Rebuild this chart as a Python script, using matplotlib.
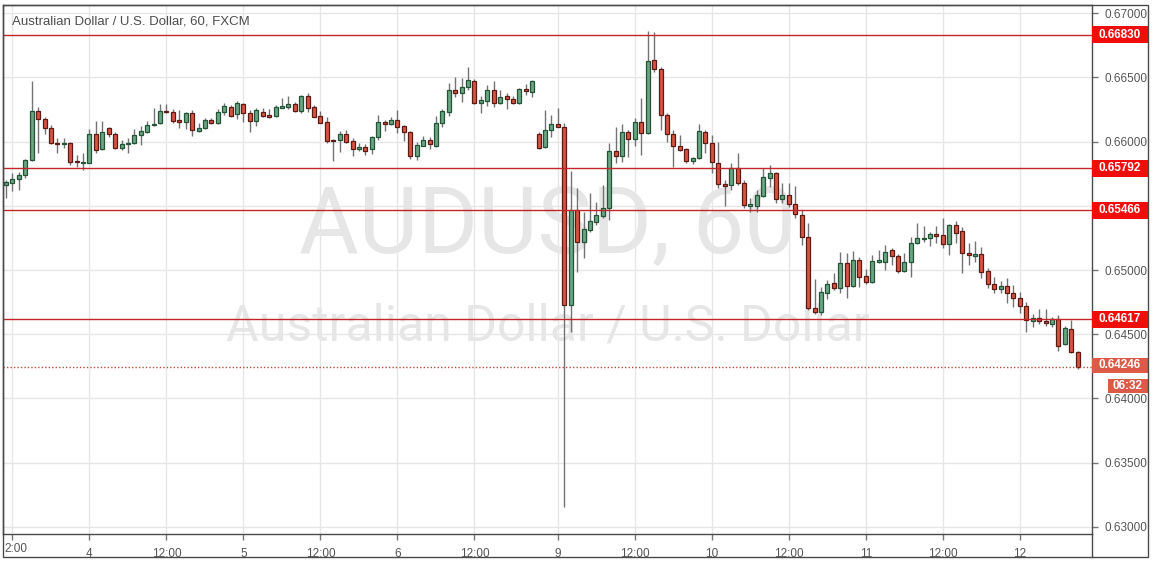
import matplotlib
matplotlib.use('Agg')
import matplotlib.pyplot as plt
import matplotlib.transforms as mtransforms
from matplotlib.patches import Rectangle
from matplotlib.lines import Line2D
import numpy as np

# ---------------- data (AUD/USD, 60 min, FXCM) ----------------
opens = [0.65658, 0.65680, 0.65706, 0.65737, 0.65856, 0.66238, 0.66173, 0.66103, 0.65989, 0.65981,
         0.65986, 0.65851, 0.65835, 0.65835, 0.66056, 0.65940, 0.66103, 0.66056, 0.65947, 0.65981,
         0.65986, 0.66049, 0.66077, 0.66126, 0.66142, 0.66238, 0.66227, 0.66168, 0.66150, 0.66224,
         0.66082, 0.66103, 0.66168, 0.66142, 0.66227, 0.66271, 0.66212, 0.66292, 0.66220, 0.66160,
         0.66232, 0.66206, 0.66201, 0.66263, 0.66271, 0.66292, 0.66240, 0.66354, 0.66266, 0.66199,
         0.66150, 0.66012, 0.66012, 0.66059, 0.66004, 0.65940, 0.65955, 0.65940, 0.66033, 0.66154,
         0.66134, 0.66168, 0.66121, 0.66072, 0.65890, 0.65968, 0.66012, 0.65968, 0.66142, 0.66232,
         0.66401, 0.66375, 0.66427, 0.66471, 0.66297, 0.66318, 0.66401, 0.66297, 0.66354, 0.66328,
         0.66297, 0.66409, 0.66388, 0.66059, 0.65955, 0.66090, 0.66136, 0.66115, 0.64728, 0.65467,
         0.65216, 0.65312, 0.65376, 0.65423, 0.65485, 0.65926, 0.65890, 0.66072, 0.66017, 0.66154,
         0.66064, 0.66634, 0.66564, 0.66206, 0.66059, 0.65965, 0.65940, 0.65851, 0.65869, 0.66077,
         0.65991, 0.65831, 0.65667, 0.65662, 0.65796, 0.65675, 0.65501, 0.65501, 0.65578, 0.65719,
         0.65753, 0.65550, 0.65584, 0.65512, 0.65428, 0.65260, 0.64703, 0.64676, 0.64824, 0.64897,
         0.64858, 0.65053, 0.64876, 0.65078, 0.64953, 0.64909, 0.65065, 0.65065, 0.65156, 0.65112,
         0.64995, 0.65065, 0.65208, 0.65242, 0.65247, 0.65281, 0.65273, 0.65200, 0.65351, 0.65304,
         0.65130, 0.65112, 0.65125, 0.64993, 0.64889, 0.64850, 0.64876, 0.64819, 0.64780, 0.64720,
         0.64604, 0.64625, 0.64604, 0.64578, 0.64617, 0.64422, 0.64539, 0.64365]
highs = [0.65697, 0.65751, 0.65765, 0.65862, 0.66471, 0.66271, 0.66193, 0.66129, 0.66025, 0.66025,
         0.65999, 0.65895, 0.65908, 0.66098, 0.66160, 0.66160, 0.66115, 0.66077, 0.66012, 0.66025,
         0.66095, 0.66121, 0.66160, 0.66259, 0.66290, 0.66290, 0.66253, 0.66245, 0.66232, 0.66245,
         0.66142, 0.66181, 0.66181, 0.66253, 0.66302, 0.66282, 0.66315, 0.66302, 0.66245, 0.66263,
         0.66263, 0.66253, 0.66284, 0.66341, 0.66354, 0.66310, 0.66362, 0.66380, 0.66284, 0.66240,
         0.66193, 0.66020, 0.66084, 0.66090, 0.66025, 0.65991, 0.65981, 0.66043, 0.66206, 0.66168,
         0.66188, 0.66245, 0.66129, 0.66082, 0.65999, 0.66043, 0.66033, 0.66199, 0.66251, 0.66453,
         0.66500, 0.66497, 0.66582, 0.66484, 0.66354, 0.66440, 0.66471, 0.66401, 0.66380, 0.66354,
         0.66419, 0.66448, 0.66479, 0.66077, 0.66245, 0.66206, 0.66259, 0.66142, 0.65773, 0.65636,
         0.65454, 0.65597, 0.65532, 0.65662, 0.65986, 0.66111, 0.66136, 0.66090, 0.66181, 0.66336,
         0.66860, 0.66850, 0.66582, 0.66220, 0.66090, 0.66051, 0.65952, 0.65882, 0.66136, 0.66090,
         0.66051, 0.65999, 0.65701, 0.65831, 0.65908, 0.65701, 0.65558, 0.65623, 0.65792, 0.65817,
         0.65765, 0.65680, 0.65675, 0.65654, 0.65467, 0.65368, 0.64928, 0.64870, 0.64923, 0.64975,
         0.65138, 0.65130, 0.65148, 0.65099, 0.65006, 0.65117, 0.65156, 0.65195, 0.65169, 0.65125,
         0.65130, 0.65255, 0.65368, 0.65343, 0.65298, 0.65343, 0.65402, 0.65356, 0.65384, 0.65337,
         0.65208, 0.65226, 0.65182, 0.65018, 0.64944, 0.64915, 0.64941, 0.64884, 0.64832, 0.64754,
         0.64656, 0.64695, 0.64695, 0.64633, 0.64650, 0.64565, 0.64612, 0.64370]
lows = [0.65561, 0.65611, 0.65623, 0.65714, 0.65850, 0.65913, 0.66056, 0.65981, 0.65913, 0.65947,
        0.65817, 0.65804, 0.65779, 0.65831, 0.65913, 0.65934, 0.66038, 0.65940, 0.65934, 0.65913,
        0.65981, 0.65973, 0.66069, 0.66123, 0.66134, 0.66220, 0.66142, 0.66103, 0.66095, 0.66043,
        0.66077, 0.66095, 0.66136, 0.66136, 0.66206, 0.66193, 0.66175, 0.66154, 0.66077, 0.66123,
        0.66193, 0.66181, 0.66193, 0.66259, 0.66253, 0.66232, 0.66220, 0.66227, 0.66188, 0.66142,
        0.65986, 0.65848, 0.65921, 0.65991, 0.65890, 0.65929, 0.65895, 0.65903, 0.66012, 0.66084,
        0.66129, 0.66064, 0.66006, 0.65864, 0.65856, 0.65965, 0.65942, 0.65960, 0.66115, 0.66201,
        0.66349, 0.66310, 0.66401, 0.66292, 0.66224, 0.66276, 0.66271, 0.66290, 0.66253, 0.66292,
        0.66292, 0.66362, 0.66349, 0.65942, 0.65947, 0.66033, 0.66111, 0.63154, 0.64520, 0.64987,
        0.65092, 0.65296, 0.65351, 0.65405, 0.65390, 0.65831, 0.65843, 0.65882, 0.65968, 0.65895,
        0.66060, 0.66543, 0.66090, 0.65999, 0.65804, 0.65926, 0.65831, 0.65823, 0.65862, 0.65908,
        0.65753, 0.65636, 0.65501, 0.65623, 0.65662, 0.65485, 0.65449, 0.65454, 0.65571, 0.65649,
        0.65519, 0.65519, 0.65493, 0.65402, 0.65195, 0.64689, 0.64658, 0.64650, 0.64773, 0.64845,
        0.64819, 0.64785, 0.64870, 0.64870, 0.64892, 0.64902, 0.65057, 0.65000, 0.65039, 0.64975,
        0.64987, 0.64948, 0.65200, 0.65221, 0.65187, 0.65208, 0.65169, 0.65117, 0.65208, 0.64979,
        0.65039, 0.65065, 0.64936, 0.64863, 0.64824, 0.64824, 0.64741, 0.64710, 0.64668, 0.64520,
        0.64555, 0.64580, 0.64565, 0.64560, 0.64370, 0.64417, 0.64357, 0.64228]
closes = [0.65685, 0.65706, 0.65740, 0.65856, 0.66238, 0.66173, 0.66103, 0.65986, 0.65979, 0.65989,
          0.65843, 0.65838, 0.65843, 0.66056, 0.65934, 0.66072, 0.66056, 0.65947, 0.65979, 0.65991,
          0.66051, 0.66082, 0.66129, 0.66136, 0.66238, 0.66227, 0.66162, 0.66150, 0.66220, 0.66090,
          0.66103, 0.66168, 0.66142, 0.66227, 0.66279, 0.66201, 0.66297, 0.66220, 0.66160, 0.66245,
          0.66201, 0.66193, 0.66266, 0.66276, 0.66292, 0.66240, 0.66354, 0.66263, 0.66193, 0.66147,
          0.66006, 0.66006, 0.66059, 0.65999, 0.65940, 0.65955, 0.65929, 0.66033, 0.66150, 0.66134,
          0.66168, 0.66111, 0.66072, 0.65890, 0.65973, 0.66012, 0.65979, 0.66142, 0.66238, 0.66401,
          0.66375, 0.66422, 0.66479, 0.66297, 0.66323, 0.66401, 0.66297, 0.66349, 0.66328, 0.66297,
          0.66406, 0.66391, 0.66471, 0.65952, 0.66090, 0.66136, 0.66115, 0.64728, 0.65467, 0.65216,
          0.65317, 0.65384, 0.65428, 0.65485, 0.65926, 0.65890, 0.66072, 0.66017, 0.66154, 0.66064,
          0.66627, 0.66562, 0.66206, 0.66056, 0.65968, 0.65934, 0.65851, 0.65869, 0.66082, 0.65986,
          0.65838, 0.65667, 0.65656, 0.65796, 0.65675, 0.65506, 0.65514, 0.65584, 0.65722, 0.65753,
          0.65550, 0.65584, 0.65512, 0.65434, 0.65260, 0.64703, 0.64676, 0.64832, 0.64892, 0.64858,
          0.65053, 0.64876, 0.65078, 0.64948, 0.64909, 0.65070, 0.65078, 0.65143, 0.65112, 0.64995,
          0.65065, 0.65208, 0.65247, 0.65252, 0.65278, 0.65267, 0.65200, 0.65351, 0.65291, 0.65130,
          0.65113, 0.65125, 0.64987, 0.64889, 0.64850, 0.64876, 0.64819, 0.64780, 0.64720, 0.64612,
          0.64625, 0.64604, 0.64586, 0.64617, 0.64412, 0.64547, 0.64365, 0.64246]

tick_index = [1, 13, 25, 37, 49, 61, 73, 86, 98, 110, 122, 134, 146, 158]
tick_labels = ['2:00', '4', '12:00', '5', '12:00', '6', '12:00', '9', '12:00', '10',
               '12:00', '11', '12:00', '12']
price_ticks = [0.630, 0.635, 0.640, 0.645, 0.650, 0.655, 0.660, 0.665, 0.670]
level_prices = [0.66830, 0.65792, 0.65466, 0.64617]
last_price = 0.64246
countdown = '06:32'
title = 'Australian Dollar / U.S. Dollar, 60, FXCM'
watermark_1 = 'AUDUSD, 60'
watermark_2 = 'Australian Dollar / U.S. Dollar'

# ---------------- styling ----------------
W, H = 1155, 567
plt.rcParams['font.family'] = ['Liberation Sans', 'DejaVu Sans']
UP, DOWN = '#6ba583', '#d75442'
UP_EDGE, DOWN_EDGE = '#225437', '#5b1a13'
WICK = '#737375'
TXT = '#555555'
FRAME = '#4a4a4a'
PX = 12850.0  # pixels per price unit on the vertical scale

fig = plt.figure(figsize=(W / 100, H / 100), dpi=100)
fig.patch.set_facecolor('white')

def px_rect(x0, y0, x1, y1):
    return [x0 / W, 1 - y1 / H, (x1 - x0) / W, (y1 - y0) / H]

ax = fig.add_axes(px_rect(3, 5, 1092, 534))
ax.set_facecolor('white')

o = np.array(opens); h = np.array(highs); l = np.array(lows); c = np.array(closes)
idx = np.arange(len(o))
up = c >= o

ax.vlines(idx, l, h, color=WICK, lw=1, zorder=3)
bottoms = np.minimum(o, c)
heights = np.maximum(np.abs(c - o), 0.00002)
ax.bar(idx[up], heights[up], bottom=bottoms[up], width=0.62,
       color=UP, edgecolor=UP_EDGE, linewidth=0.9, zorder=4)
ax.bar(idx[~up], heights[~up], bottom=bottoms[~up], width=0.62,
       color=DOWN, edgecolor=DOWN_EDGE, linewidth=0.9, zorder=4)

ax.set_xlim(-0.47, 169.24)
ax.set_ylim(0.629455, 0.670623)

# grid
ax.set_axisbelow(True)
ax.grid(True, color='#e6e6e6', lw=1)

# watermark
ax.text(0.5, 0.578, watermark_1, transform=ax.transAxes, ha='center', va='center',
        fontsize=66, color='#e6e6e6', zorder=0.6, family='Roboto')
ax.text(0.5, 0.393, watermark_2, transform=ax.transAxes, ha='center', va='center',
        fontsize=36, color='#e6e6e6', zorder=0.6, family='Roboto')

# title
fig.text(12 / W, 1 - 22 / H, title, ha='left', va='center', fontsize=9.5, color='#4d4d4d')

# x axis
ax.set_xticks(tick_index)
ax.set_xticklabels([''] + tick_labels[1:])
ax.tick_params(axis='x', direction='out', length=4, width=1, color='#777777',
               labelsize=8.5, labelcolor=TXT, pad=6)
# first label: the "12:00" whose leading digit is cut by the left frame
ax.annotate(tick_labels[0], xy=(tick_index[0], 0), xycoords=ax.get_xaxis_transform(),
            xytext=(4, -15.5), textcoords='offset pixels', ha='center', va='center',
            fontsize=8.5, color=TXT, annotation_clip=False)

# y axis on the right
ax.yaxis.tick_right()
ax.set_yticks(price_ticks)
hidden = [min(level_prices, key=lambda q: abs(q - p)) for p in price_ticks]
ax.set_yticklabels(['' if abs(q - p) * PX < 12 else '%.5f' % p
                    for p, q in zip(price_ticks, hidden)])
ax.tick_params(axis='y', direction='out', length=4, width=1, color='#777777',
               labelsize=8.5, labelcolor=TXT, pad=5)

for sp in ax.spines.values():
    sp.set_color(FRAME)
    sp.set_linewidth(1)

# level lines & labels
ytr = mtransforms.blended_transform_factory(ax.transAxes, ax.transData)
axw = 1089.0
box_w = 56 / axw
half_h = 8.5 / PX
for p in level_prices:
    ax.axhline(p, color='#c0262a', lw=1, zorder=5)
    ax.add_patch(Rectangle((1.0, p - half_h), box_w, 2 * half_h, transform=ytr,
                           facecolor='#f20d0d', edgecolor='none', clip_on=False, zorder=6))
    ax.text(1.0 + box_w / 2, p, '%.5f' % p, transform=ytr, ha='center', va='center',
            fontsize=8.5, color='white', fontweight='bold', clip_on=False, zorder=7)

ax.axhline(last_price, color='#b5503f', lw=1, ls=(0, (1, 1.5)), zorder=5)
half_h2 = 7.8 / PX
ax.add_patch(Rectangle((1.0, last_price - half_h2 + 1.5 / PX), box_w, 2 * half_h2, transform=ytr,
                       facecolor='#dc5a48', edgecolor='none', clip_on=False, zorder=6))
ax.text(1.0 + box_w / 2, last_price + 1.5 / PX, '%.5f' % last_price, transform=ytr,
        ha='center', va='center', fontsize=8.5, color='white', fontweight='bold',
        clip_on=False, zorder=7)
cd_y = last_price - 19.5 / PX
ax.add_patch(Rectangle((1.0 + 15.5 / axw, cd_y - 7 / PX), 40.5 / axw, 14 / PX, transform=ytr,
                       facecolor='#dc5a48', edgecolor='none', clip_on=False, zorder=6))
ax.text(1.0 + 35.5 / axw, cd_y, countdown, transform=ytr, ha='center', va='center',
        fontsize=8.5, color='white', fontweight='bold', clip_on=False, zorder=7)

# outer frame
fig.add_artist(Rectangle((3 / W, 1 - 557 / H), 1145 / W, 552 / H, transform=fig.transFigure,
                         fill=False, edgecolor=FRAME, lw=1))
fig.add_artist(Line2D([1092 / W, 1092 / W], [1 - 534 / H, 1 - 557 / H],
                      transform=fig.transFigure, color=FRAME, lw=1))

fig.savefig('out.png', dpi=100, facecolor='white')
